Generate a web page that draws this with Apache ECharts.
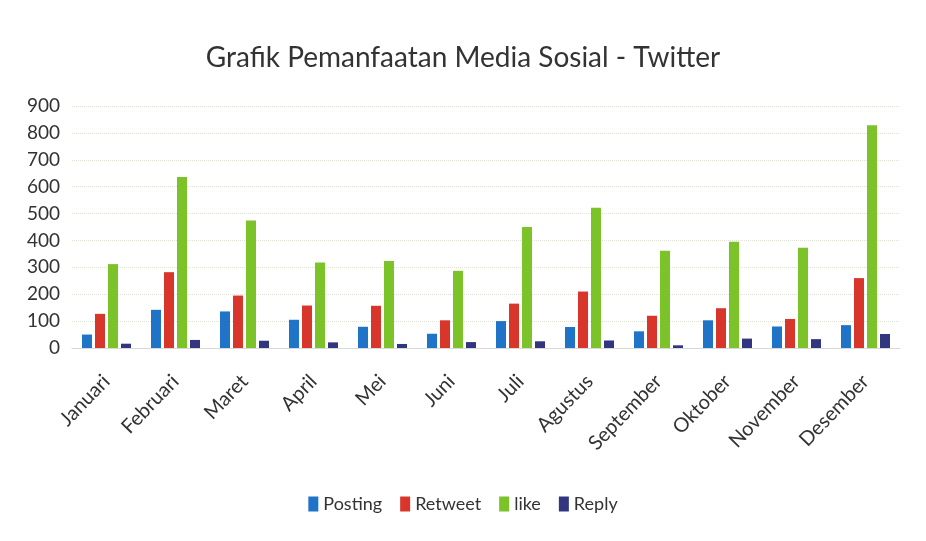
<!DOCTYPE html>
<html><head><meta charset="utf-8">
<script src="https://cdn.jsdelivr.net/npm/echarts@6/dist/echarts.min.js"></script>
<style>html,body{margin:0;padding:0;background:#fff}#c{width:926px;height:541px}</style>
</head><body><div id="c"></div>
<script>
var categories = ['Januari','Februari','Maret','April','Mei','Juni','Juli','Agustus','September','Oktober','November','Desember'];
var posting = [50,142,136,105,79,53,100,78,62,103,80,85];
var retweet = [127,282,195,158,157,103,165,210,120,148,108,260];
var like = [312,636,474,318,324,287,450,522,362,395,373,828];
var reply = [16,30,27,21,15,22,25,28,10,35,33,52];
var yTicks = [0,100,200,300,400,500,600,700,800,900];

var font = 'Lato, "Open Sans", sans-serif';
var chart = echarts.init(document.getElementById('c'));
function s(name, data, color){
  return {name:name,type:'bar',data:data,barWidth:10,barGap:'30%',itemStyle:{color:color}};
}
chart.setOption({
  animation:false,
  title:{text:'Grafik Pemanfaatan Media Sosial - Twitter',left:'center',top:39,
    textStyle:{fontFamily:font,fontSize:28,fontWeight:'normal',color:'#333'}},
  legend:{bottom:23,left:'center',itemWidth:10,itemHeight:15,itemGap:18,icon:'rect',
    textStyle:{fontFamily:font,fontSize:18,color:'#333'},
    data:['Posting','Retweet','like','Reply']},
  grid:{left:72,right:26,top:106,bottom:193,containLabel:false},
  xAxis:{type:'category',data:categories,
    axisLine:{lineStyle:{color:'#d8d8d8'}},axisTick:{show:false},
    axisLabel:{rotate:46,fontFamily:font,fontSize:20,color:'#333',margin:30,interval:0}},
  yAxis:{type:'value',min:yTicks[0],max:yTicks[yTicks.length-1],interval:100,
    axisLine:{show:false},axisTick:{show:false},
    axisLabel:{fontFamily:font,fontSize:19,color:'#333',margin:12},
    splitLine:{lineStyle:{color:'#e2e2d2',type:'dotted'}}},
  series:[s('Posting',posting,'#1f74c8'),s('Retweet',retweet,'#d8362b'),s('like',like,'#7cc229'),s('Reply',reply,'#323680')]
});
</script></body></html>
